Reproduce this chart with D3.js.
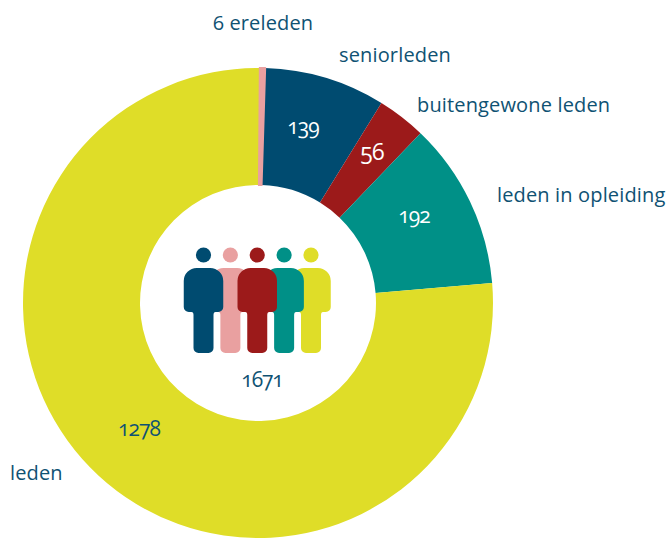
<!DOCTYPE html>
<html>
<head>
<meta charset="utf-8">
<script src="https://cdn.jsdelivr.net/npm/d3@7"></script>
<style>
    html, body { margin: 0; padding: 0; background: #fff; }
    svg { display: block; }
    text { font-family: "Open Sans", sans-serif; font-variant-numeric: oldstyle-nums; font-weight: 500; }
</style>
</head>
<body>
<div id="chart"></div>
<script>
// chart values, in drawing order (clockwise from the top)
const categories = ['ereleden', 'seniorleden', 'buitengewone leden', 'leden in opleiding', 'leden'];
const values = [6, 139, 56, 192, 1278];
const colors = ['#e9a0a0', '#004b70', '#9c1a1a', '#009087', '#dfdd28'];
const total = 1671;

// label text and where it sits
const nameLabels = ['6 ereleden', 'seniorleden', 'buitengewone leden', 'leden in opleiding', 'leden'];
const nameX = [213, 339, 417, 497, 10];
const nameY = [30, 62, 112, 202, 480];
const valueX = [303, 372, 414, 139];
const valueY = [134, 160, 223, 436];
const valueFill = ['#fff', '#fff', '#fff', '#0f5273'];
const valueSize = [21, 23, 21, 21];

// people in the icon: left to right, and the order they overlap
const peopleColors = ['#004b70', '#e9a0a0', '#9c1a1a', '#009087', '#dfdd28'];
const peopleOrder = [4, 1, 3, 0, 2];

const width = 672;
const height = 539;
const cx = 258;
const cy = 303;
const outerR = 235;
const innerR = 118;
const rotation = 0.45 * Math.PI / 180;
const textColor = '#0f5273';

const svg = d3.select('#chart')
    .append('svg')
    .attr('width', width)
    .attr('height', height);

// donut
const pie = d3.pie()
    .sort(null)
    .startAngle(rotation)
    .endAngle(2 * Math.PI + rotation);
const arc = d3.arc().innerRadius(innerR).outerRadius(outerR);

const slices = svg.append('g')
    .attr('transform', `translate(${cx},${cy})`)
    .selectAll('path')
    .data(pie(values))
    .join('path')
    .attr('class', (d, i) => `slice-${i}`)
    .attr('fill', (d, i) => colors[i])
    .attr('d', arc);

// the ereleden sliver is a touch wider in the reference, keep it on top
slices.filter((d, i) => i === 0)
    .attr('stroke', colors[0])
    .attr('stroke-width', 2)
    .raise();

// outer labels
svg.append('g')
    .selectAll('text')
    .data(nameLabels)
    .join('text')
    .attr('x', (d, i) => nameX[i])
    .attr('y', (d, i) => nameY[i])
    .attr('fill', textColor)
    .attr('font-size', 20)
    .attr('letter-spacing', 0.15)
    .text(d => d);

// numbers inside the slices
svg.append('g')
    .selectAll('text')
    .data(values.slice(1))
    .join('text')
    .attr('x', (d, i) => valueX[i])
    .attr('y', (d, i) => valueY[i])
    .attr('text-anchor', 'middle')
    .attr('fill', (d, i) => valueFill[i])
    .attr('font-size', (d, i) => valueSize[i])
    .attr('letter-spacing', -0.9)
    .text(d => d);

// total under the icon
svg.append('text')
    .attr('x', 262)
    .attr('y', 387)
    .attr('text-anchor', 'middle')
    .attr('fill', textColor)
    .attr('font-size', 21)
    .attr('letter-spacing', -1.1)
    .text(total);

// person icon, drawn around its own centre line
function personPath() {
    const p = d3.path();
    const tw = 19.75; // half torso
    const lw = 10;    // half leg
    const top = 268, waist = 312, foot = 353, rt = 13, rb = 5, rf = 5;
    p.moveTo(0, top);
    p.arcTo(tw, top, tw, top + rt, rt);
    p.arcTo(tw, waist, tw - rb, waist, rb);
    p.lineTo(lw + 2, waist);
    p.quadraticCurveTo(lw, waist, lw, waist + 3);
    p.arcTo(lw, foot, lw - rf, foot, rf);
    p.arcTo(-lw, foot, -lw, foot - rf, rf);
    p.lineTo(-lw, waist + 3);
    p.quadraticCurveTo(-lw, waist, -lw - 2, waist);
    p.arcTo(-tw, waist, -tw, waist - rb, rb);
    p.arcTo(-tw, top, -tw + rt, top, rt);
    p.closePath();
    return p.toString();
}

const scaleX = d3.scalePoint()
    .domain(d3.range(peopleColors.length))
    .range([203.5, 311]);

const people = svg.append('g')
    .selectAll('g')
    .data(peopleOrder)
    .join('g')
    .attr('transform', d => `translate(${scaleX(d)},0)`)
    .attr('fill', d => peopleColors[d]);

people.append('circle')
    .attr('cy', 255)
    .attr('r', 7.6);

people.append('path')
    .attr('d', personPath());
</script>
</body>
</html>
